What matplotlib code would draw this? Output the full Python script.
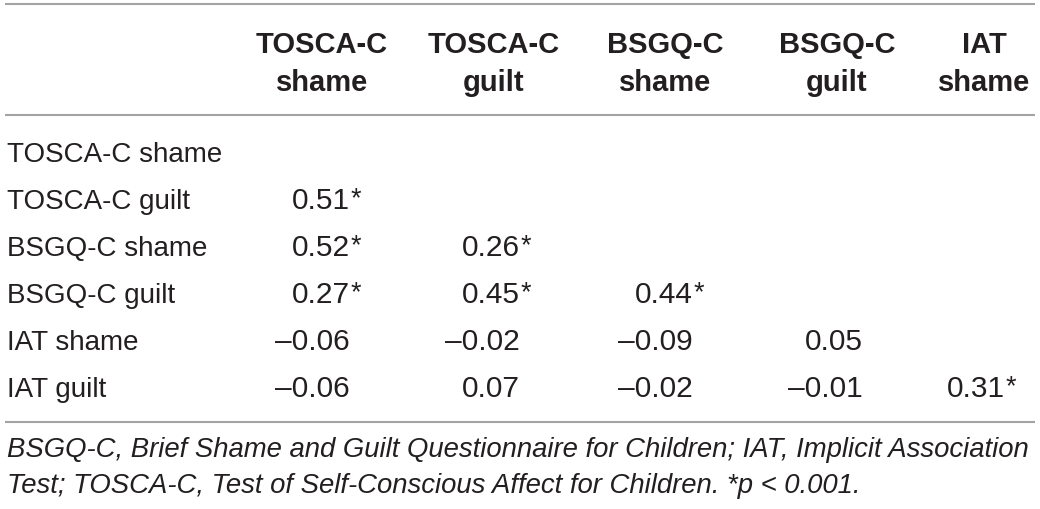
import numpy as np
import matplotlib.pyplot as plt

# table data
row_labels = ['TOSCA-C shame', 'TOSCA-C guilt', 'BSGQ-C shame',
              'BSGQ-C guilt', 'IAT shame', 'IAT guilt']
col_labels = ['TOSCA-C\nshame', 'TOSCA-C\nguilt', 'BSGQ-C\nshame',
              'BSGQ-C\nguilt', 'IAT\nshame']
corr = [
    [None, None, None, None, None],
    [0.51, None, None, None, None],
    [0.52, 0.26, None, None, None],
    [0.27, 0.45, 0.44, None, None],
    [-0.06, -0.02, -0.09, 0.05, None],
    [-0.06, 0.07, -0.02, -0.01, 0.31],
]
signif = [
    [0, 0, 0, 0, 0],
    [1, 0, 0, 0, 0],
    [1, 1, 0, 0, 0],
    [1, 1, 1, 0, 0],
    [0, 0, 0, 0, 0],
    [0, 0, 0, 0, 1],
]
note = ('BSGQ-C, Brief Shame and Guilt Questionnaire for Children; IAT, Implicit Association\n'
        'Test; TOSCA-C, Test of Self-Conscious Affect for Children. *p < 0.001.')

W, H = 1040, 510
txt_col = '#231f20'
rule_col = '#a3a3a3'
fam = ['Liberation Sans', 'DejaVu Sans']

fig = plt.figure(figsize=(W/100, H/100), dpi=100)
ax = fig.add_axes([0, 0, 1, 1])
ax.set_xlim(0, W)
ax.set_ylim(H, 0)
ax.axis('off')

# layout (pixels)
col_center = [322, 494, 665, 837, 984]
col_right = [350, 520, 693, 863, 1005]
row_base = [162, 209, 256, 303, 350, 397]
fs_head = 21
fs_lab = 20
fs_num = 21.5
fs_note = 19.8

for y in [5, 116, 423]:
    ax.plot([5, 1035], [y, y], color=rule_col, lw=1.5, solid_capstyle='butt')

for j, lab in enumerate(col_labels):
    l1, l2 = lab.split('\n')
    ax.text(col_center[j], 53, l1, ha='center', va='baseline', fontsize=fs_head,
            fontweight='bold', color=txt_col, family=fam)
    ax.text(col_center[j], 91, l2, ha='center', va='baseline', fontsize=fs_head,
            fontweight='bold', color=txt_col, family=fam)

for i, lab in enumerate(row_labels):
    ax.text(7, row_base[i], lab, ha='left', va='baseline', fontsize=fs_lab,
            color=txt_col, family=fam)
    for j in range(len(col_labels)):
        v = corr[i][j]
        if v is None:
            continue
        s = f'{abs(v):.2f}'
        if v < 0:
            s = '\u2013' + s
        ax.text(col_right[j], row_base[i], s, ha='right', va='baseline',
                fontsize=fs_num, color=txt_col, family=fam)
        if signif[i][j]:
            ax.text(col_right[j] + 1, row_base[i] - 3, '*', ha='left',
                    va='baseline', fontsize=fs_num * 0.9, color=txt_col, family=fam)

nl = note.split('\n')
ax.text(7, 457, nl[0], ha='left', va='baseline', fontsize=fs_note,
        style='italic', color=txt_col, family=fam)
ax.text(7, 493, nl[1], ha='left', va='baseline', fontsize=fs_note,
        style='italic', color=txt_col, family=fam)

fig.savefig('out.png', dpi=100)
